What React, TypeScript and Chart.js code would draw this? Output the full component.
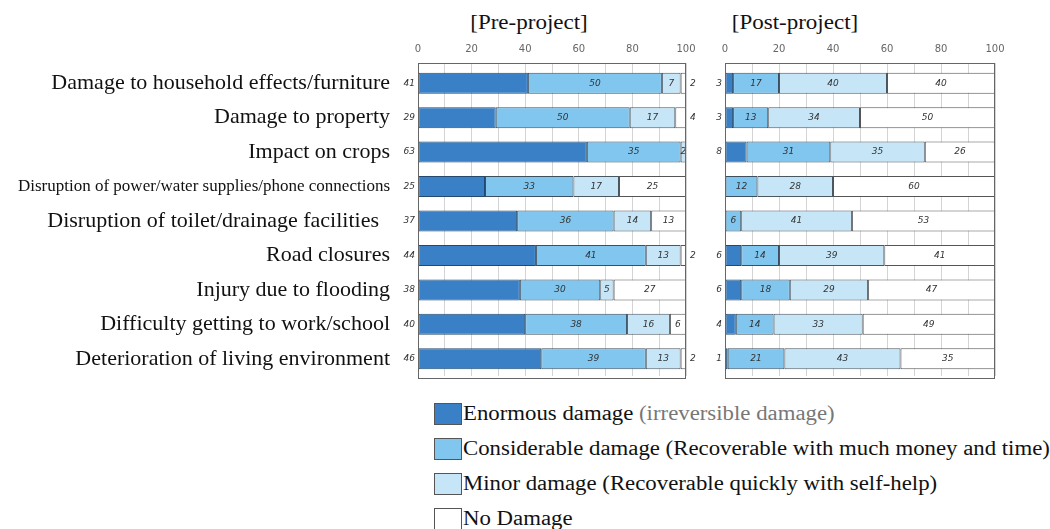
import React, { useEffect, useRef } from "react";
import { Chart, registerables } from "chart.js";

Chart.register(...registerables);

const categories = [
  "Damage to household effects/furniture",
  "Damage to property",
  "Impact on crops",
  "Disruption of power/water supplies/phone connections",
  "Disruption of toilet/drainage facilities  ",
  "Road closures",
  "Injury due to flooding",
  "Difficulty getting to work/school",
  "Deterioration of living environment",
];

const seriesNames = [
  "Enormous damage",
  "Considerable damage",
  "Minor damage",
  "No Damage",
];
const seriesNotes = [
  "(irreversible damage)",
  "(Recoverable with much money and time)",
  "(Recoverable quickly with self-help)",
  "",
];

const preEnormous = [41, 29, 63, 25, 37, 44, 38, 40, 46];
const preConsiderable = [50, 50, 35, 33, 36, 41, 30, 38, 39];
const preMinor = [7, 17, 2, 17, 14, 13, 5, 16, 13];
const preNone = [2, 4, 0, 25, 13, 2, 27, 6, 2];

const postEnormous = [3, 3, 8, 0, 0, 6, 6, 4, 1];
const postConsiderable = [17, 13, 31, 12, 6, 14, 18, 14, 21];
const postMinor = [40, 34, 35, 28, 41, 39, 29, 33, 43];
const postNone = [40, 50, 26, 60, 53, 41, 47, 49, 35];

const xTicks = [0, 20, 40, 60, 80, 100];

const colors = ["#3a80c6", "#80c6ef", "#c6e6f8", "#ffffff"];
const borderColors = ["#24496e", "#3d4f5e", "#4a5660", "#555555"];

const valueLabelPlugin = {
  id: "valueLabels",
  afterDatasetsDraw(chart: any) {
    const { ctx, chartArea } = chart;
    ctx.save();
    ctx.font = 'italic 9px "DejaVu Sans"';
    ctx.fillStyle = "#333";
    ctx.textBaseline = "middle";
    const n = chart.data.datasets.length;
    chart.data.datasets.forEach((ds: any, di: number) => {
      const meta = chart.getDatasetMeta(di);
      meta.data.forEach((el: any, i: number) => {
        const v = ds.data[i];
        if (!v) return;
        const p = el.getProps(["x", "y", "base"], true);
        if (di === 0) {
          ctx.textAlign = "right";
          ctx.fillText(String(v), chartArea.left - 3, p.y);
        } else if (di === n - 1 && v < 5) {
          ctx.textAlign = "left";
          ctx.fillText(String(v), chartArea.right + 4, p.y);
        } else {
          ctx.textAlign = "center";
          ctx.fillText(String(v), (p.x + p.base) / 2, p.y);
        }
      });
    });
    ctx.strokeStyle = "#666";
    ctx.lineWidth = 1;
    const l = Math.round(chartArea.left) + 0.5;
    const t = Math.round(chartArea.top) - 3 + 0.5;
    const w = Math.round(chartArea.right - chartArea.left) - 1;
    const h = Math.round(chartArea.bottom - chartArea.top) + 6 - 1;
    ctx.strokeRect(l, t, w, h);
    ctx.restore();
  },
};

function makeChart(
  canvas: HTMLCanvasElement,
  data: number[][],
  showY: boolean,
  padding: any
) {
  return new Chart(canvas, {
    type: "bar",
    data: {
      labels: categories,
      datasets: data.map((d, i) => ({
        label: seriesNames[i],
        data: d,
        backgroundColor: colors[i],
        borderColor: borderColors[i],
        borderWidth: 1,
        borderSkipped: false,
        barPercentage: 0.61,
        categoryPercentage: 1,
      })),
    },
    options: {
      indexAxis: "y",
      responsive: false,
      maintainAspectRatio: false,
      animation: false,
      layout: { padding },
      plugins: {
        legend: { display: false },
        tooltip: { enabled: false },
        title: { display: false },
      },
      scales: {
        x: {
          position: "top",
          stacked: true,
          min: 0,
          max: 100,
          afterFit: (scale: any) => {
            scale.height = 26;
          },
          grid: { color: "#d4d4d4", drawTicks: true, tickLength: 3 },
          border: { display: false },
          ticks: {
            stepSize: 10,
            padding: 8,
            color: "#666",
            font: { family: '"DejaVu Sans"', size: 10 },
            callback: (v: any) => (xTicks.includes(Number(v)) ? String(v) : ""),
          },
        },
        y: {
          stacked: true,
          display: showY,
          afterFit: (scale: any) => {
            if (showY) scale.width = 418;
            scale.paddingTop = 0;
            scale.paddingBottom = 0;
          },
          grid: { display: false },
          border: { display: false },
          ticks: {
            padding: 20,
            color: "#111",
            font: (c: any) => ({
              family: '"Liberation Serif"',
              size: c.index === 3 ? 17 : 22,
            }),
          },
        },
      },
    },
    plugins: [valueLabelPlugin],
  });
}

export default function App() {
  const leftRef = useRef<HTMLCanvasElement>(null);
  const rightRef = useRef<HTMLCanvasElement>(null);

  useEffect(() => {
    const c1 = makeChart(
      leftRef.current!,
      [preEnormous, preConsiderable, preMinor, preNone],
      true,
      { left: 0, right: 19, top: 0, bottom: 9 }
    );
    const c2 = makeChart(
      rightRef.current!,
      [postEnormous, postConsiderable, postMinor, postNone],
      false,
      { left: 25, right: 55, top: 0, bottom: 9 }
    );
    return () => {
      c1.destroy();
      c2.destroy();
    };
  }, []);

  const serif = '"Liberation Serif", serif';

  const titleStyle = (center: number): React.CSSProperties => ({
    position: "absolute",
    left: center - 150,
    width: 300,
    top: 10,
    textAlign: "center",
    fontSize: 20,
    lineHeight: "24px",
    color: "#111",
    transform: "scaleX(1.15)",
    transformOrigin: "center",
  });

  return (
    <div
      style={{
        position: "absolute",
        left: 0,
        top: 0,
        width: 1050,
        height: 529,
        background: "#fff",
        overflow: "hidden",
        fontFamily: serif,
      }}
    >
      <div style={titleStyle(529)}>[Pre-project]</div>
      <div style={titleStyle(795)}>[Post-project]</div>
      <canvas
        ref={leftRef}
        width={705}
        height={345}
        style={{ position: "absolute", left: 0, top: 40, width: 705, height: 345 }}
      />
      <canvas
        ref={rightRef}
        width={350}
        height={345}
        style={{ position: "absolute", left: 700, top: 40, width: 350, height: 345 }}
      />
      {seriesNames.map((name, i) => (
        <div
          key={name}
          style={{
            position: "absolute",
            left: 434,
            top: 402 + i * 35,
            height: 23,
            display: "flex",
            alignItems: "center",
            whiteSpace: "nowrap",
            fontSize: 20,
            color: "#111",
          }}
        >
          <span
            style={{
              display: "inline-block",
              width: 28,
              height: 22,
              boxSizing: "border-box",
              background: colors[i],
              border: "1px solid #555",
              marginRight: 1,
              flex: "none",
            }}
          />
          <span
            style={{
              display: "inline-block",
              transform: "scaleX(1.14)",
              transformOrigin: "left center",
            }}
          >
            {name}
            {seriesNotes[i] ? " " : ""}
            {seriesNotes[i] ? (
              <span style={{ color: i === 0 ? "#777" : "#111" }}>{seriesNotes[i]}</span>
            ) : null}
          </span>
        </div>
      ))}
    </div>
  );
}
